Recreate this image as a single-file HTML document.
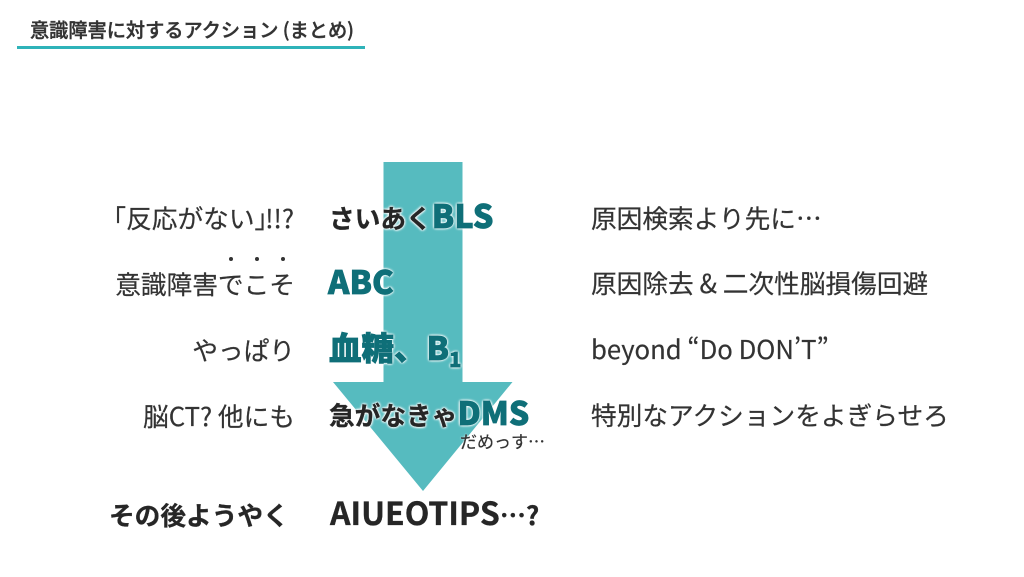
<!DOCTYPE html>
<html lang="ja"><head><meta charset="utf-8"><style>
html,body{margin:0;padding:0;background:#fff}
#p{position:relative;width:1024px;height:577px;overflow:hidden;background:#fff;font-family:"Noto Sans CJK JP","Liberation Sans",sans-serif;color:#333;filter:blur(.3px)}
.t{position:absolute;white-space:nowrap;line-height:36px;height:36px;font-size:25.7px;-webkit-text-stroke:.2px #333}
.r{text-align:right}
.b{font-weight:700;color:#262626;-webkit-text-stroke:.3px #262626;text-shadow:0 0 3px #fff,0 0 3px #fff,0 0 2px #fff,0 0 2px #fff}
.g{color:#0f6f78;font-weight:900;-webkit-text-stroke:.7px #0f6f78}
sub{font-size:62%;line-height:0;vertical-align:-0.35em}
.d{position:absolute;width:4px;height:4px;border-radius:50%;background:#333;top:257px}
</style></head><body><div id="p">
<div class="t" style="left:30px;top:11px;font-size:19.2px;font-weight:500;-webkit-text-stroke:.4px #333">意識障害に対するアクション (まとめ)</div>
<div style="position:absolute;left:17px;top:46px;width:348px;height:2.5px;background:#2fb3b9"></div>
<svg style="position:absolute;left:0;top:0" width="1024" height="577"><polygon points="383.5,162 462.5,162 462.5,382 512.5,382 423,491 333,382 383.5,382" fill="#56bbbf"/></svg>
<div class="t r" style="right:730px;top:200px">「反応がない<span style="margin-right:-15px">」</span>!!?</div>
<div class="t r" style="right:729px;top:266px">意識障害でこそ</div>
<div class="d" style="left:229px"></div><div class="d" style="left:255px"></div><div class="d" style="left:281px"></div>
<div class="t r" style="right:729px;top:332px">やっぱり</div>
<div class="t r" style="right:729px;top:398px">脳CT? 他にも</div>
<div class="t b" style="left:109px;top:497px;font-size:25.7px">その後ようやく</div>
<div class="t b" style="left:329px;top:197px;font-size:25.7px">さいあく<span class="g" style="font-size:32.5px">BLS</span></div>
<div class="t b g" style="left:328px;top:263px;font-size:32.5px;color:#0f6f78">ABC</div>
<div class="t b g" style="left:329px;top:329px;font-size:32.5px;color:#0f6f78">血糖、B<sub>1</sub></div>
<div class="t b" style="left:329px;top:394px;font-size:25.7px">急がなきゃ<span class="g" style="font-size:32px">DMS</span></div>
<div class="t" style="left:460px;top:423px;font-size:17px;text-shadow:0 0 2px #fff">だめっす…</div>
<div class="t b" style="left:330px;top:494px;font-size:32px">AIUEOTIPS<span style="font-size:26px">…?</span></div>
<div class="t" style="left:591px;top:200px">原因検索より先に…</div>
<div class="t" style="left:591px;top:265px">原因除去 &amp; 二次性脳損傷回避</div>
<div class="t" style="left:591px;top:331px">beyond “Do DON’T”</div>
<div class="t" style="left:591px;top:397px">特別なアクションをよぎらせろ</div>
</div></body></html>
